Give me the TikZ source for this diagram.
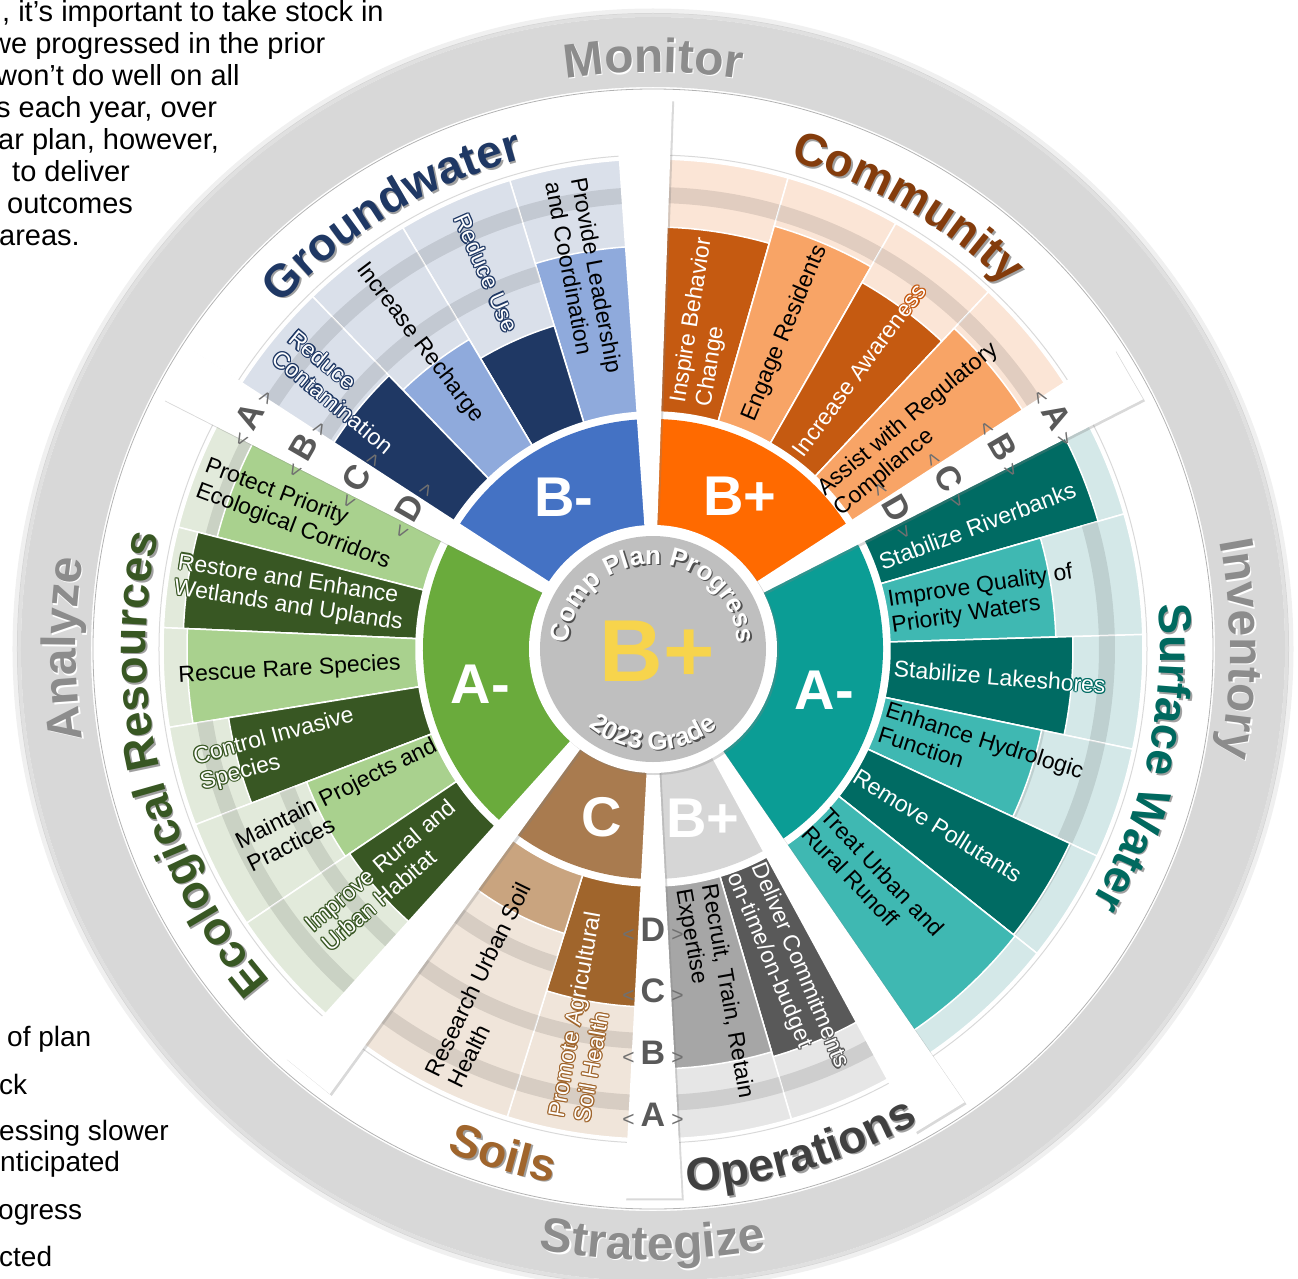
\documentclass[tikz,border=0pt]{standalone}
\usepackage{fontspec}
\setmainfont{Liberation Sans}
\usetikzlibrary{decorations.text,shadows}

\definecolor{gwdark}{HTML}{1F3864}
\definecolor{gwlight}{HTML}{8FAADC}
\definecolor{gwgrade}{HTML}{4472C4}
\definecolor{gwbg}{HTML}{DAE0EA}
\definecolor{comdark}{HTML}{C55A11}
\definecolor{comlight}{HTML}{F8A466}
\definecolor{comgrade}{HTML}{FF6A00}
\definecolor{combg}{HTML}{FBE5D6}
\definecolor{comtitle}{HTML}{843C0C}
\definecolor{swdark}{HTML}{006B63}
\definecolor{swlight}{HTML}{3FB8B2}
\definecolor{swgrade}{HTML}{0B9D95}
\definecolor{swbg}{HTML}{D4E8E8}
\definecolor{swtitle}{HTML}{00695F}
\definecolor{opdark}{HTML}{595959}
\definecolor{oplight}{HTML}{A6A6A6}
\definecolor{opgrade}{HTML}{D6D6D6}
\definecolor{opbg}{HTML}{E6E6E6}
\definecolor{optitle}{HTML}{404040}
\definecolor{soildark}{HTML}{A0652C}
\definecolor{soillight}{HTML}{C9A47F}
\definecolor{soilgrade}{HTML}{A97B4F}
\definecolor{soilbg}{HTML}{F0E5DA}
\definecolor{ecodark}{HTML}{385723}
\definecolor{ecolight}{HTML}{A9D18E}
\definecolor{ecograde}{HTML}{6AAB3C}
\definecolor{ecobg}{HTML}{E2EADB}
\definecolor{ringgray}{HTML}{D8D8D8}
\definecolor{ringtext}{HTML}{8C8C8C}
\definecolor{centergray}{HTML}{BFBFBF}
\definecolor{centershadow}{HTML}{505050}
\definecolor{gradeyellow}{HTML}{F7D44C}
\definecolor{lettergray}{HTML}{595959}
\definecolor{chevgray}{HTML}{707070}
\definecolor{titleshadow}{HTML}{A0A0A0}

\newcommand{\ringfont}{\fontsize{48}{48}\selectfont\bfseries}
\newcommand{\titlefont}{\fontsize{46}{46}\selectfont\bfseries}
\newcommand{\centerfont}{\fontsize{26}{26}\selectfont\bfseries}
\newcommand{\chev}[1]{{\fontsize{21}{21}\selectfont\mdseries\color{chevgray}#1}}

% annulus piece: style, from angle, to angle, inner r, outer r
\newcommand{\ringpart}[5]{\path[#1] (#2:#4pt) arc[start angle=#2, end angle=#3, radius=#4pt]
  -- (#3:#5pt) arc[start angle=#3, end angle=#2, radius=#5pt] -- cycle;}
% text on an arc, clockwise (tops outward) / counter clockwise (tops inward)
\newcommand{\cwtext}[7]{%
  \pgfmathsetmacro{\arcA}{#2+#3}\pgfmathsetmacro{\arcB}{#2-#3}%
  \path[shift={(1.5,-1.5)}, decorate, decoration={text along path, text align=center, text={|#4\color{#5}|#7}}]
    (\arcA:#1pt) arc[start angle=\arcA, end angle=\arcB, radius=#1pt];
  \path[decorate, decoration={text along path, text align=center, text={|#4\color{#6}|#7}}]
    (\arcA:#1pt) arc[start angle=\arcA, end angle=\arcB, radius=#1pt];}
\newcommand{\ccwtext}[7]{%
  \pgfmathsetmacro{\arcA}{#2-#3}\pgfmathsetmacro{\arcB}{#2+#3}%
  \path[shift={(1.5,-1.5)}, decorate, decoration={text along path, text align=center, text={|#4\color{#5}|#7}}]
    (\arcA:#1pt) arc[start angle=\arcA, end angle=\arcB, radius=#1pt];
  \path[decorate, decoration={text along path, text align=center, text={|#4\color{#6}|#7}}]
    (\arcA:#1pt) arc[start angle=\arcA, end angle=\arcB, radius=#1pt];}
% radial labels: name, angle, radius, colour, text
\newcommand{\barlabel}[5]{%
  \pgfmathsetmacro{\lrot}{cos(#2)>0 ? #2 : #2+180}%
  \node[lbl, text=#4, rotate=\lrot] (#1) at (#2:#3pt) {#5};}
\newcommand{\halolabel}[5]{%
  \pgfmathsetmacro{\lrot}{cos(#2)>0 ? #2 : #2+180}%
  \foreach \hx/\hy in {1.2/0,-1.2/0,0/1.2,0/-1.2,.85/.85,-.85/.85,.85/-.85,-.85/-.85}
    {\node[lbl, text=#4, rotate=\lrot] at ([shift={(\hx,\hy)}]#2:#3pt) {#5};}
  \node[lbl, text=white, rotate=\lrot] (#1) at (#2:#3pt) {#5};}

\tikzset{
  lbl/.style={font=\fontsize{23}{26}\selectfont, align=left, inner sep=0pt},
  gradetxt/.style={font=\fontsize{56}{56}\selectfont\bfseries, text=white},
  spokelbl/.style={font=\fontsize{34}{34}\selectfont\bfseries, text=lettergray, inner sep=0pt},
  sidetxt/.style={font=\fontsize{29}{32}\selectfont, anchor=base west, inner sep=0pt},
  bigtxt/.style={font=\fontsize{88}{88}\selectfont\bfseries, text=gradeyellow},
  spokeshadow/.style={drop shadow={shadow xshift=2pt, shadow yshift=-2pt, opacity=.3}}
}

\begin{document}
\begin{tikzpicture}[x=1pt,y=1pt]
\useasboundingbox (-653,-629) rectangle (645,649);

% outer ring
\draw[black, opacity=.06, line width=5pt] (0,0) circle (638pt);
\draw[black, opacity=.12, line width=4pt] (0,0) circle (634pt);
\fill[ringgray, even odd rule] (0,0) circle (632pt) circle (562pt);
\draw[black!30, line width=.8pt] (0,0) circle (560pt);
\cwtext{577}{90}{40}{\ringfont}{white}{ringtext}{Monitor}
\cwtext{577}{0}{40}{\ringfont}{white}{ringtext}{Inventory}
\ccwtext{611}{-90}{40}{\ringfont}{white}{ringtext}{Strategize}
\cwtext{577}{180}{40}{\ringfont}{white}{ringtext}{Analyze}

% objectives: from/to/length/bar colour/background
\foreach \sa/\sb/\len/\bc/\bk in {
  91/107/403/gwlight/gwbg, 107/120.7/338/gwdark/gwbg, 120.7/134/360/gwlight/gwbg, 134/150/380/gwdark/gwbg,
  74/91/422/comdark/combg, 60.3/74/440/comlight/combg, 46.8/60.3/422/comdark/combg, 30/46.8/440/comlight/combg,
  16/30/463/swdark/swbg, 1.7/16/403/swlight/swbg, -11.8/1.7/420/swdark/swbg, -25/-11.8/397/swlight/swbg,
  -38.4/-25/460/swdark/swbg, -58.5/-38.4/462/swlight/swbg,
  -73.6/-58.5/425/opdark/opbg, -90/-73.6/420/oplight/opbg,
  252.7/270/358/soildark/soilbg, 231/252.7/298/soillight/soilbg,
  150/165.6/450/ecolight/ecobg, 165.6/177.5/470/ecodark/ecobg, 177.5/189.2/466/ecolight/ecobg,
  189.2/201/430/ecodark/ecobg, 201/214/371/ecolight/ecobg, 214/231/366/ecodark/ecobg}{
  \ringpart{fill=\bk, draw=white, line width=1.5pt}{\sa}{\sb}{237}{490}
  \foreach \mi/\mo in {322/338,384/400,446/462}
    {\ringpart{fill=black, opacity=.1}{\sa}{\sb}{\mi}{\mo}}
  \ringpart{fill=\bc, draw=white, line width=1.5pt}{\sa}{\sb}{237}{\len}
}
\draw[black!15, line width=1pt] (0,0) circle (494pt);

% grade ring
\foreach \sa/\sb/\gc/\gn/\gm/\gr in {91/150/gwgrade/gw/120.5/B-, 30/91/comgrade/com/60.5/B+,
  -58.5/30/swgrade/sw/-13.5/A-, -90/-58.5/opgrade/op/-73.5/B+, 231/270/soilgrade/soil/253/C,
  150/231/ecograde/eco/191.5/A-}{
  \ringpart{fill=\gc}{\sa}{\sb}{118}{230}
  \node[gradetxt] (\gn-grade) at (\gm:176pt) {\gr};
}

% spokes
\foreach \sp in {30,91,150,231,270,301.5}
  \path[fill=white, spokeshadow] (\sp-3:118pt) -- (\sp-3:550pt) -- (\sp+3:550pt) -- (\sp+3:118pt) -- cycle;
\foreach \sp/\rot/\nm in {150/60/ul, 30/-60/ur, 270/0/bt}
  \foreach \g/\gr in {D/281, C/342, B/404, A/466}
    \node[spokelbl, rotate=\rot] (\nm-\g) at (\sp:\gr pt) {\chev{<}\hspace{6pt}\g\hspace{6pt}\chev{>}};

% objective labels
\barlabel{provide}{100.5}{378}{black}{Provide Leadership\\and Coordination}
\halolabel{reduceuse}{113.9}{411}{gwdark}{Reduce Use}
\barlabel{recharge}{127.3}{385}{black}{Increase Recharge}
\halolabel{contamination}{140.5}{404}{gwdark}{Reduce\\Contamination}
\halolabel{inspire}{81}{331}{comdark}{Inspire Behavior\\Change}
\barlabel{engage}{67.3}{342}{black}{Engage Residents}
\halolabel{awareness}{53.5}{347}{comdark}{Increase Awareness}
\barlabel{assist}{39.8}{343}{black}{Assist with Regulatory\\Compliance}
\halolabel{riverbanks}{20.8}{347}{swdark}{Stabilize Riverbanks}
\barlabel{quality}{8.5}{333}{black}{Improve Quality of\\Priority Waters}
\halolabel{lakeshores}{-4.6}{348}{swdark}{Stabilize Lakeshores}
\barlabel{hydrologic}{-17.5}{344}{black}{Enhance Hydrologic\\Function}
\halolabel{pollutants}{-31.8}{335}{swdark}{Remove Pollutants}
\barlabel{runoff}{-46.5}{320}{black}{Treat Urban and\\Rural Runoff}
\barlabel{recruit}{-80}{350}{black}{Recruit, Train, Retain\\Expertise}
\halolabel{deliver}{-67.3}{349}{opdark}{Deliver Commitments\\on-time/on-budget}
\barlabel{research}{244}{374}{black}{Research Urban Soil\\Health}
\halolabel{promote}{259.8}{374}{soildark}{Promote Agricultural\\Soil Health}
\barlabel{protect}{159.3}{380}{black}{Protect Priority\\Ecological Corridors}
\halolabel{restore}{171.3}{367}{ecodark}{Restore and Enhance\\Wetlands and Uplands}
\barlabel{rescue}{183.3}{364}{black}{Rescue Rare Species}
\halolabel{control}{195}{389}{ecodark}{Control Invasive\\Species}
\barlabel{maintain}{206.5}{348}{black}{Maintain Projects and\\Practices}
\halolabel{improve}{220.5}{348}{ecodark}{Improve Rural and\\Urban Habitat}

% centre
\fill[white, spokeshadow] (0,0) circle (124pt);
\fill[centergray] (0,0) circle (113pt);
\cwtext{85}{90}{90}{\centerfont}{centershadow}{white}{Comp Plan Progress}
\ccwtext{101}{-90}{60}{\centerfont}{centershadow}{white}{2023 Grade}
\node[bigtxt] (total) at (4,-2) {B+};

% area titles
\cwtext{507}{121}{40}{\titlefont}{titleshadow}{gwdark}{Groundwater}
\cwtext{507}{60}{40}{\titlefont}{titleshadow}{comtitle}{Community}
\cwtext{507}{-12.5}{40}{\titlefont}{titleshadow}{swtitle}{Surface Water}
\cwtext{507}{194}{45}{\titlefont}{titleshadow}{ecodark}{Ecological Resources}
\ccwtext{543}{-106.5}{20}{\titlefont}{titleshadow}{soildark}{Soils}
\ccwtext{543}{-73.5}{25}{\titlefont}{titleshadow}{optitle}{Operations}

% page text around the wheel
\node[sidetxt] (intro1) at (-651,627) {, it’s important to take stock in};
\node[sidetxt] (intro2) at (-663,595) {we progressed in the prior};
\node[sidetxt] (intro3) at (-657,563) {won’t do well on all};
\node[sidetxt] (intro4) at (-657,531) {s each year, over};
\node[sidetxt] (intro5) at (-655,499) {ar plan, however,};
\node[sidetxt] (intro6) at (-641,467) {to deliver};
\node[sidetxt] (intro7) at (-646,435) {outcomes};
\node[sidetxt] (intro8) at (-654,403) {areas.};
\node[sidetxt, font=\fontsize{28}{30}\selectfont] (key1) at (-646,-397) {of plan};
\node[sidetxt, font=\fontsize{28}{30}\selectfont] (key2) at (-654,-445) {ck};
\node[sidetxt, font=\fontsize{28}{30}\selectfont] (key3) at (-654,-491) {essing slower};
\node[sidetxt, font=\fontsize{28}{30}\selectfont] (key4) at (-653,-522) {nticipated};
\node[sidetxt, font=\fontsize{28}{30}\selectfont] (key5) at (-655,-570) {ogress};
\node[sidetxt, font=\fontsize{28}{30}\selectfont] (key6) at (-654,-617) {cted};
\end{tikzpicture}
\end{document}
